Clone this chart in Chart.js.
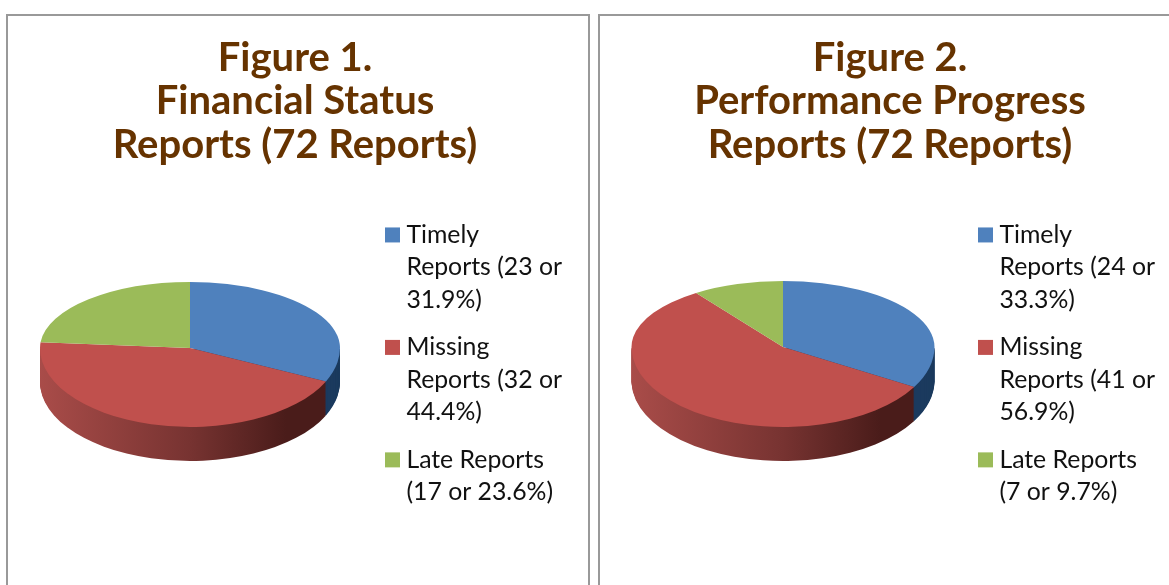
<!DOCTYPE html>
<html>
<head>
<meta charset="utf-8">
<script src="https://cdn.jsdelivr.net/npm/chart.js@4/dist/chart.umd.js"></script>
<style>
  html, body { margin: 0; background: #fff; overflow: hidden; }
  body { position: relative; width: 1169px; height: 585px; }
  .panel { position: absolute; top: 14px; height: 600px; border: 2px solid #999; background: #fff; overflow: hidden; }
  #panel1 { left: 6px; width: 580px; }
  #panel2 { left: 598px; width: 600px; }
  canvas { display: block; }
</style>
</head>
<body>
<div class="panel" id="panel1"><canvas id="chart1" width="574" height="703"></canvas></div>
<div class="panel" id="panel2"><canvas id="chart2" width="580" height="703"></canvas></div>
<script>
// data
var title1 = ['Figure 1.', 'Financial Status', 'Reports (72 Reports)'];
var title2 = ['Figure 2.', 'Performance Progress', 'Reports (72 Reports)'];
var labels1 = [['Timely', 'Reports (23 or', '31.9%)'], ['Missing', 'Reports (32 or', '44.4%)'], ['Late Reports', '(17 or 23.6%)']];
var labels2 = [['Timely', 'Reports (24 or', '33.3%)'], ['Missing', 'Reports (41 or', '56.9%)'], ['Late Reports', '(7 or 9.7%)']];
var values1 = [23, 32, 17];
var values2 = [24, 41, 7];
var colors = ['#4F81BD', '#C0504D', '#9BBB59'];

// tilted pie: the top half is flatter than the bottom one, like the office 3d pie
var tiltPlugin = {
    id: 'tilt',
    beforeDatasetsDraw: function (chart, args, opts) {
        var ctx = chart.ctx;
        var arcs = chart.getDatasetMeta(0).data;
        var r = arcs[0].outerRadius;
        var cx = arcs[0].x;
        var cy = arcs[0].y;

        var grad = ctx.createLinearGradient(cx - r, 0, cx + r, 0);
        grad.addColorStop(0, '#A94C49');
        grad.addColorStop(0.5, '#773331');
        grad.addColorStop(0.82, '#4A1C1A');
        grad.addColorStop(1, '#4A1C1A');
        var wallColors = ['#1B3A5E', grad, '#5F7530'];

        function drawHalf(top, scaleY, dy, fills) {
            ctx.save();
            ctx.beginPath();
            if (top) ctx.rect(0, 0, chart.width, opts.apexY);
            else ctx.rect(0, opts.apexY + dy, chart.width, chart.height);
            ctx.clip();
            ctx.translate(opts.shiftX, opts.apexY + dy);
            ctx.scale(1, scaleY);
            ctx.translate(0, -cy);
            arcs.forEach(function (arc, i) {
                if (fills) {
                    var old = arc.options;
                    arc.options = Object.create(old, { backgroundColor: { value: fills[i] } });
                    arc.draw(ctx);
                    arc.options = old;
                } else {
                    arc.draw(ctx);
                }
            });
            ctx.restore();
        }

        // side wall, one pixel layer at a time
        for (var d = opts.depth; d > 0; d--) {
            drawHalf(false, opts.lower / r, d, wallColors);
        }
        drawHalf(false, opts.lower / r, 0);
        drawHalf(true, opts.upper / r, 0);
        return false;
    }
};

// small box + thick stroke gives the square swatch with a tight gap to the text
function legendItems(chart) {
    var items = Chart.overrides.pie.plugins.legend.labels.generateLabels(chart);
    items.forEach(function (item) {
        item.strokeStyle = item.fillStyle;
        item.lineWidth = 12;
        item.lineJoin = 'miter';
    });
    return items;
}

function makePie(id, title, labels, values, tilt, sidePad) {
    var ctx = document.getElementById(id).getContext('2d');
    return new Chart(ctx, {
        type: 'pie',
        data: {
            labels: labels,
            datasets: [{
                data: values,
                backgroundColor: colors,
                borderWidth: 0,
                radius: tilt.radius
            }]
        },
        options: {
            responsive: false,
            animation: false,
            events: [],
            layout: { padding: { left: sidePad, right: sidePad } },
            plugins: {
                tilt: tilt,
                tooltip: { enabled: false },
                title: {
                    display: true,
                    text: title,
                    color: '#663300',
                    font: { family: 'Lato', size: 40, weight: 'bold', lineHeight: 1.0875 },
                    padding: { top: 20, bottom: 10 }
                },
                legend: {
                    position: 'right',
                    align: 'center',
                    labels: {
                        color: '#111',
                        boxWidth: 3,
                        boxHeight: 3,
                        padding: 15,
                        generateLabels: legendItems,
                        font: { family: 'Lato', size: 24.8, lineHeight: 1.31 }
                    }
                }
            }
        },
        plugins: [tiltPlugin]
    });
}

makePie('chart1', title1, labels1, values1, { radius: 150, apexY: 332, upper: 66, lower: 79, depth: 34, shiftX: -7 }, 10);
makePie('chart2', title2, labels2, values2, { radius: 151.5, apexY: 331, upper: 66, lower: 80, depth: 34, shiftX: -9 }, 15);
</script>
</body>
</html>
